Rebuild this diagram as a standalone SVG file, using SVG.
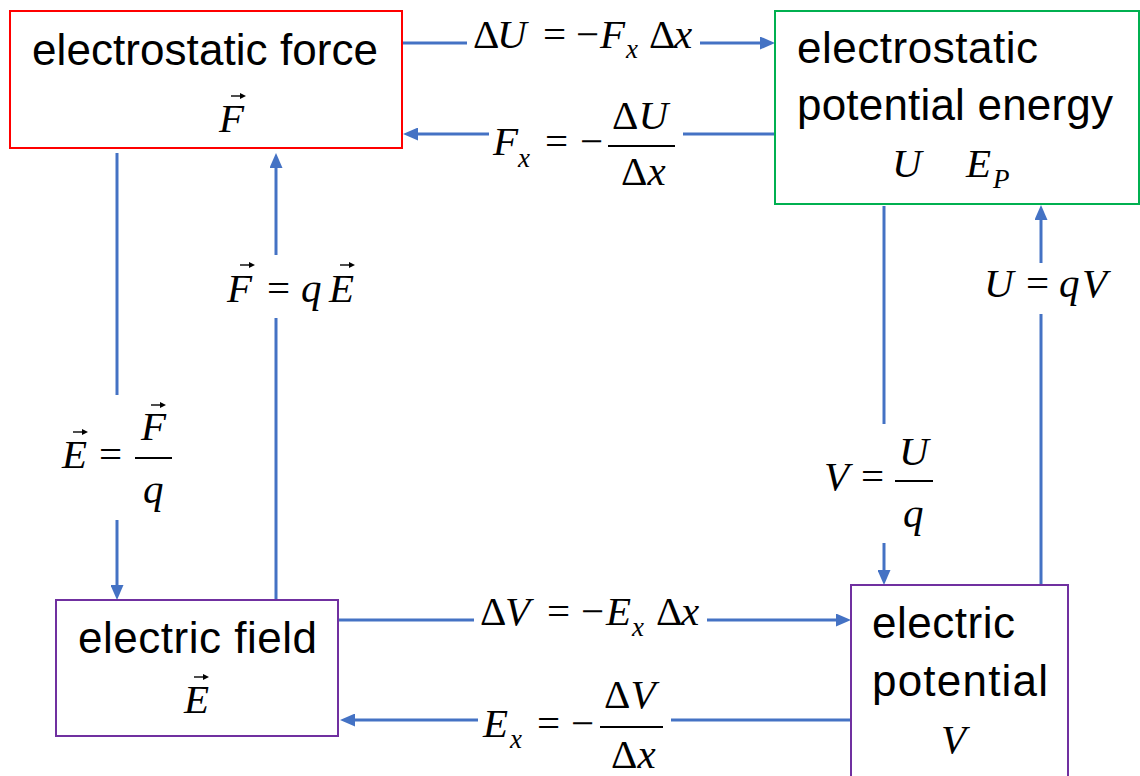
<svg xmlns="http://www.w3.org/2000/svg" xmlns:xlink="http://www.w3.org/1999/xlink" width="1140" height="776" viewBox="0 0 1140 776">
<style>
.box{fill:#fff;stroke-width:2}
.lbl{font-family:"Liberation Sans",Arial,sans-serif;font-size:44px;fill:#000}
.m{font-family:"Liberation Serif","Times New Roman",serif;font-size:41px;fill:#000}
.i{font-style:italic}
.sub{font-family:"Liberation Serif","Times New Roman",serif;font-size:27px;font-style:italic;fill:#000}
.bar{stroke:#000;stroke-width:2}
.con{stroke:#4472C4;stroke-width:3;fill:none}
.arr{marker-end:url(#ah)}
</style>
<defs>
<marker id="ah" markerUnits="userSpaceOnUse" markerWidth="16" markerHeight="13" refX="7" refY="6.5" orient="auto">
<path d="M0,0 L15,6.5 L0,13 z" fill="#4472C4"/>
</marker>
<g id="vec"><path d="M0,0 H11" stroke="#000" stroke-width="1.4"/><path d="M15,0 L9,-3 L9,3 z" fill="#000"/></g>
</defs>

<g id="connectors">
<path class="con" d="M402,43 H467"/><path class="con arr" d="M700,43 H767"/>
<path class="con" d="M775,134 H683"/><path class="con arr" d="M489,134 H411"/>
<path class="con" d="M117,153 V395"/><path class="con arr" d="M117,520 V592"/>
<path class="con" d="M276,600 V318"/><path class="con arr" d="M276,255 V161"/>
<path class="con" d="M884,206 V424"/><path class="con arr" d="M884,543 V577"/>
<path class="con" d="M1041,585 V314"/><path class="con arr" d="M1041,263 V213"/>
<path class="con" d="M338,620 H474"/><path class="con arr" d="M707,620 H843"/>
<path class="con" d="M851,720 H671"/><path class="con arr" d="M478,720 H348"/>
</g>

<g id="node-force">
<rect class="box" x="10" y="11" width="392" height="137" stroke="#FF0000"/>
<text class="lbl" x="32" y="65" textLength="346" lengthAdjust="spacing">electrostatic force</text>
<text class="m i" x="219" y="132">F</text>
<use xlink:href="#vec" x="231" y="96"/>
</g>

<g id="node-energy">
<rect class="box" x="775" y="11" width="364" height="193" stroke="#00B050"/>
<text class="lbl" x="797" y="63" textLength="241" lengthAdjust="spacing">electrostatic</text>
<text class="lbl" x="797" y="120" textLength="316" lengthAdjust="spacing">potential energy</text>
<text class="m i" x="892" y="177">U</text>
<text class="m i" x="966" y="177">E</text>
<text class="sub" x="993" y="188">P</text>
</g>

<g id="node-field">
<rect class="box" x="56" y="600" width="282" height="136" stroke="#7030A0"/>
<text class="lbl" x="78" y="653" textLength="239" lengthAdjust="spacing">electric field</text>
<text class="m i" x="184" y="713">E</text>
<use xlink:href="#vec" x="194" y="677"/>
</g>

<g id="node-potential">
<rect class="box" x="851" y="585" width="217" height="200" stroke="#7030A0"/>
<text class="lbl" x="872" y="638" textLength="143" lengthAdjust="spacing">electric</text>
<text class="lbl" x="872" y="696" textLength="176" lengthAdjust="spacing">potential</text>
<text class="m i" x="941" y="753">V</text>
</g>

<g id="label-dU">
<text class="m" y="48"><tspan x="473">Δ</tspan><tspan class="i" x="497">U</tspan><tspan x="543">=</tspan><tspan x="576">−</tspan><tspan class="i" x="600">F</tspan></text>
<text class="sub" x="626" y="58">x</text>
<text class="m" y="48"><tspan x="649">Δ</tspan><tspan class="i" x="674">x</tspan></text>
</g>

<g id="label-Fx">
<text class="m i" x="493" y="155">F</text>
<text class="sub" x="518" y="167">x</text>
<text class="m" y="155"><tspan x="545">=</tspan><tspan x="580">−</tspan></text>
<line class="bar" x1="608" y1="146" x2="675" y2="146"/>
<text class="m" x="612" y="129">Δ<tspan class="i">U</tspan></text>
<text class="m" x="621" y="185">Δ<tspan class="i">x</tspan></text>
</g>

<g id="label-EFq">
<text class="m i" x="62" y="468">E</text>
<use xlink:href="#vec" x="73" y="432"/>
<text class="m" x="99" y="468">=</text>
<line class="bar" x1="135" y1="458" x2="172" y2="458"/>
<text class="m i" x="141" y="440">F</text>
<use xlink:href="#vec" x="151" y="405"/>
<text class="m i" x="143" y="503">q</text>
</g>

<g id="label-FqE">
<text class="m i" x="227" y="302">F</text>
<use xlink:href="#vec" x="240" y="265"/>
<text class="m" x="267" y="302">=</text>
<text class="m i" x="301" y="302">q</text>
<text class="m i" x="329" y="302">E</text>
<use xlink:href="#vec" x="340" y="265"/>
</g>

<g id="label-VUq">
<text class="m i" x="824" y="490">V</text>
<text class="m" x="861" y="490">=</text>
<line class="bar" x1="895" y1="481" x2="933" y2="481"/>
<text class="m i" x="899" y="465">U</text>
<text class="m i" x="903" y="527">q</text>
</g>

<g id="label-UqV">
<text class="m i" x="984" y="297">U</text>
<text class="m" x="1026" y="297">=</text>
<text class="m i" x="1059" y="297">q</text>
<text class="m i" x="1082" y="297">V</text>
</g>

<g id="label-dV">
<text class="m" y="625"><tspan x="480">Δ</tspan><tspan class="i" x="505">V</tspan><tspan x="547">=</tspan><tspan x="581">−</tspan><tspan class="i" x="606">E</tspan></text>
<text class="sub" x="632" y="636">x</text>
<text class="m" y="625"><tspan x="656">Δ</tspan><tspan class="i" x="681">x</tspan></text>
</g>

<g id="label-Ex">
<text class="m i" x="483" y="737">E</text>
<text class="sub" x="510" y="748">x</text>
<text class="m" y="737"><tspan x="537">=</tspan><tspan x="571">−</tspan></text>
<line class="bar" x1="600" y1="727" x2="663" y2="727"/>
<text class="m" x="604" y="708">Δ<tspan class="i">V</tspan></text>
<text class="m" x="611" y="768">Δ<tspan class="i">x</tspan></text>
</g>
</svg>
